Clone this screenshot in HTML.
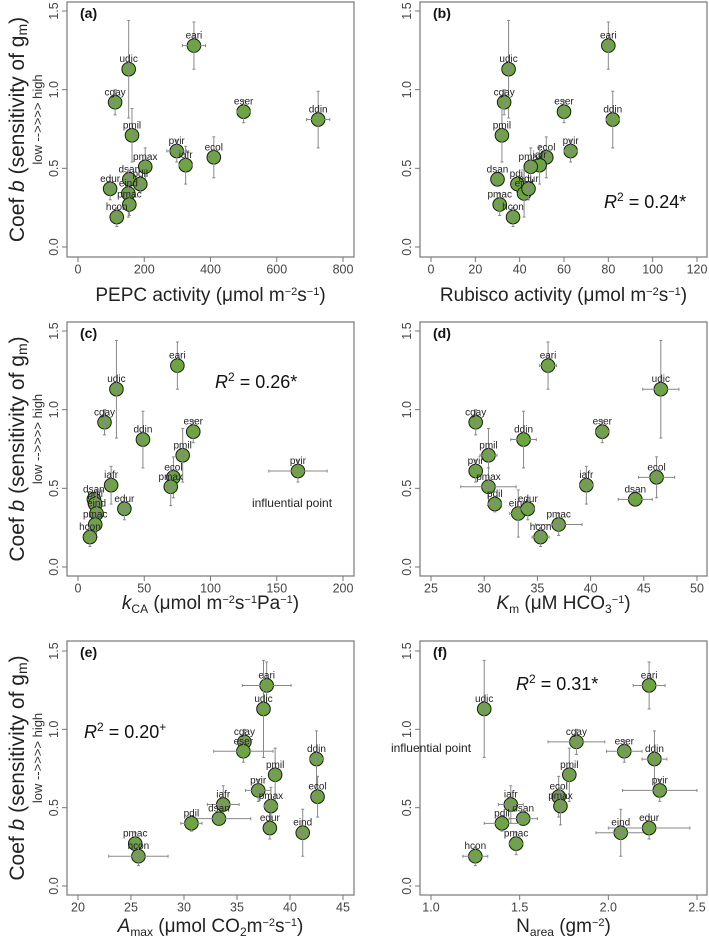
<!DOCTYPE html>
<html><head><meta charset="utf-8"><style>
html,body{margin:0;padding:0;background:#fff}
svg{display:block;font-family:"Liberation Sans",sans-serif}
</style></head><body>
<svg id="fig" width="709" height="948" viewBox="0 0 709 948" xmlns="http://www.w3.org/2000/svg"></svg>
<script>
const species = ["eari","udic","cgay","eser","ddin","pmil","pvir","ecol","iafr","pmax","dsan","pdil","eind","edur","pmac","hcon"];
const coefB = [1.28,1.13,0.92,0.86,0.81,0.71,0.61,0.57,0.52,0.51,0.43,0.40,0.34,0.37,0.27,0.19];
const coefErr = [0.15,0.31,0.08,0.07,0.18,0.17,0.07,0.13,0.12,0.12,0.03,0.05,0.15,0.07,0.07,0.06];
const xPEPC = [350,153,112,500,725,163,298,410,325,203,155,188,152,97,155,117];
const xPEPCerr = [35,8,15,20,35,8,30,15,20,10,8,15,10,15,10,10];
const xRub = [80,35,33,60,82,32,63,52,49,45,30,39,42,44,31,37];
const xRubErr = [1.5,1,1.5,1.5,3,1.5,3,2,2,2,1.5,2,2,2,1.5,2];
const xKca = [75,29,20,87,49,79,166,72,25,70,12,13,14,35,13,9];
const xKcaErr = [3,2,2,3,2,3,22,3,2,3,2,2,2,3,2,2];
const xKm = [36,46.6,29.2,41.1,33.7,30.4,29.2,46.2,39.6,30.4,44.2,31,33.2,34.1,37,35.3];
const xKmErr = [0.8,1.7,0.4,0.6,1.2,0.8,0.4,1.7,0.6,2.6,1.6,0.6,0.8,0.6,2.2,0.8];
const xAmax = [37.8,37.5,35.7,35.6,42.5,38.6,37,42.6,33.7,38.2,33.3,30.7,41.2,38.1,25.4,25.7];
const xAmaxErr = [2.3,0.5,0.5,2.8,0.6,0.5,1.2,0.5,1.5,0.6,3,1,0.5,0.5,0.5,2.8];
const xNarea = [2.23,1.30,1.82,2.09,2.26,1.78,2.29,1.72,1.45,1.73,1.52,1.40,2.07,2.23,1.48,1.25];
const xNareaErr = [0.09,0.01,0.16,0.1,0.07,0.03,0.21,0.03,0.07,0.03,0.08,0.1,0.14,0.23,0.04,0.07];
const yTicks = [0,0.5,1.0,1.5];
const yTickLabels = ["0.0","0.5","1.0","1.5"];

const NS="http://www.w3.org/2000/svg";
const svg=document.getElementById('fig');
function mk(tag,attrs,parent){const e=document.createElementNS(NS,tag);for(const k in attrs)e.setAttribute(k,attrs[k]);(parent||svg).appendChild(e);return e;}

const panels=[
 {id:"a",xs:xPEPC,xe:xPEPCerr,xmin:0,xmax:800,ticks:[0,200,400,600,800],col:0,row:0,title:'PEPC activity (<tspan>μmol m</tspan><tspan dy="-6" font-size="11">−2</tspan><tspan dy="6">s</tspan><tspan dy="-6" font-size="11">−1</tspan><tspan dy="6">)</tspan>'},
 {id:"b",xs:xRub,xe:xRubErr,xmin:0,xmax:120,ticks:[0,20,40,60,80,100,120],col:1,row:0,r2:["R","2"," = 0.24*",604,208],title:'Rubisco activity (μmol m<tspan dy="-6" font-size="11">−2</tspan><tspan dy="6">s</tspan><tspan dy="-6" font-size="11">−1</tspan><tspan dy="6">)</tspan>'},
 {id:"c",xs:xKca,xe:xKcaErr,xmin:0,xmax:200,ticks:[0,50,100,150,200],col:0,row:1,r2:["R","2"," = 0.26*",215,388],infl:[292,507],title:'<tspan font-style="italic">k</tspan><tspan dy="4" font-size="12">CA</tspan><tspan dy="-4"> (μmol m</tspan><tspan dy="-6" font-size="11">−2</tspan><tspan dy="6">s</tspan><tspan dy="-6" font-size="11">−1</tspan><tspan dy="6">Pa</tspan><tspan dy="-6" font-size="11">−1</tspan><tspan dy="6">)</tspan>'},
 {id:"d",xs:xKm,xe:xKmErr,xmin:25,xmax:50,ticks:[25,30,35,40,45,50],col:1,row:1,title:'<tspan font-style="italic">K</tspan><tspan dy="4" font-size="12">m</tspan><tspan dy="-4"> (μM HCO</tspan><tspan dy="4" font-size="12">3</tspan><tspan dy="-10" font-size="11">−1</tspan><tspan dy="6">)</tspan>'},
 {id:"e",xs:xAmax,xe:xAmaxErr,xmin:20,xmax:45,ticks:[20,25,30,35,40,45],col:0,row:2,r2:["R","2"," = 0.20",84,738,"+"],title:'<tspan font-style="italic">A</tspan><tspan dy="4" font-size="12">max</tspan><tspan dy="-4"> (μmol CO</tspan><tspan dy="4" font-size="12">2</tspan><tspan dy="-4">m</tspan><tspan dy="-6" font-size="11">−2</tspan><tspan dy="6">s</tspan><tspan dy="-6" font-size="11">−1</tspan><tspan dy="6">)</tspan>'},
 {id:"f",xs:xNarea,xe:xNareaErr,xmin:1.0,xmax:2.5,ticks:[1.0,1.5,2.0,2.5],tickFmt:1,col:1,row:2,r2:["R","2"," = 0.31*",516,690],infl:[431,752],title:'N<tspan dy="4" font-size="12">area</tspan><tspan dy="-4"> (gm</tspan><tspan dy="-6" font-size="11">−2</tspan><tspan dy="6">)</tspan>'}
];
const rows=[{y0:247,y15:11,top:2,bot:257,tl:301},{y0:567,y15:331,top:322,bot:576,tl:609},{y0:886,y15:651,top:641,bot:895,tl:932}];
const cols=[{x0:78,x1:343,left:67,right:354},{x0:431,x1:697,left:420,right:707}];

panels.forEach(p=>{
 const R=rows[p.row],C=cols[p.col];
 const sx=v=>C.x0+(v-p.xmin)/(p.xmax-p.xmin)*(C.x1-C.x0);
 const sy=v=>R.y0+(v-0)/1.5*(R.y15-R.y0);
 const g=mk('g',{});
 
 
 const box=mk('rect',{x:C.left,y:R.top,width:C.right-C.left,height:R.bot-R.top,fill:'none',stroke:'#777','stroke-width':1.2},g);
 
 
 p.ticks.forEach(t=>{
  const x=sx(t);
  mk('line',{x1:x,x2:x,y1:R.bot,y2:R.bot+5,stroke:'#777'},g);
  const tl=mk('text',{x:x,y:R.bot+13,'font-size':12.5,fill:'#444','text-anchor':'middle','dominant-baseline':'middle'},g);
  tl.textContent=p.tickFmt?t.toFixed(1):String(t);
  
  
 });
 yTicks.forEach((t,i)=>{
  const y=sy(t);
  mk('line',{x1:C.left-5,x2:C.left,y1:y,y2:y,stroke:'#777'},g);
  const tl=mk('text',{x:C.left-9,y:y,'font-size':12.5,fill:'#444','text-anchor':'middle',transform:`rotate(-90 ${C.left-9} ${y})`},g);
  tl.textContent=yTickLabels[i];
  
  
 });
 const xt=mk('text',{x:(C.left+C.right)/2,y:R.tl,'font-size':19,fill:'#222','text-anchor':'middle'},g);
 xt.innerHTML=p.title;
 
 
 const pl=mk('text',{x:C.left+13,y:R.top+16,'font-size':14,'font-weight':'bold',fill:'#111'},g);
 pl.textContent='('+p.id+')';
 
 
 if(p.r2){
  const r=mk('text',{x:p.r2[3],y:p.r2[4],'font-size':18,fill:'#111'},g);
  r.innerHTML='<tspan font-style="italic">R</tspan><tspan dy="-7" font-size="12">2</tspan><tspan dy="7">'+p.r2[2]+'</tspan>'+(p.r2[5]?'<tspan dy="-7" font-size="12">+</tspan>':'');
  
  
 }
 if(p.infl){
  const t=mk('text',{x:p.infl[0],y:p.infl[1],'font-size':12,fill:'#222','text-anchor':'middle'},g);
  t.textContent='influential point';
  
  
 }
 species.forEach((s,i)=>{
  const cx=sx(p.xs[i]),cy=sy(coefB[i]);
  const pg=mk('g',{},g);
  
  
  const x1=sx(p.xs[i]-p.xe[i]),x2=sx(p.xs[i]+p.xe[i]);
  const y1=sy(coefB[i]-coefErr[i]),y2=sy(coefB[i]+coefErr[i]);
  mk('circle',{cx:cx,cy:cy,r:6.8,fill:'#6aa83b',stroke:'#1a1a1a','stroke-width':1},pg);
  mk('line',{x1:x1,x2:x2,y1:cy,y2:cy,stroke:'#888','stroke-width':1},pg);
  mk('line',{x1:cx,x2:cx,y1:y1,y2:y2,stroke:'#888','stroke-width':1},pg);
  [x1,x2].forEach(x=>mk('line',{x1:x,x2:x,y1:cy-1.5,y2:cy+1.5,stroke:'#888'},pg));
  [y1,y2].forEach(y=>mk('line',{x1:cx-1.5,x2:cx+1.5,y1:y,y2:y,stroke:'#888'},pg));
  const lb=mk('text',{x:cx,y:cy-7,'font-size':10,fill:'#222','text-anchor':'middle'},pg);
  lb.textContent=s;
  
  
 });
});
rows.forEach((R,k)=>{
 const cy=(R.top+R.bot)/2;
 const t=mk('text',{x:24,y:cy,'font-size':21,fill:'#222','text-anchor':'middle',transform:`rotate(-90 24 ${cy})`});
 t.innerHTML='Coef <tspan font-style="italic">b</tspan> (sensitivity of g<tspan dy="3" font-size="14">m</tspan><tspan dy="-3">)</tspan>';
 
 
 const t2=mk('text',{x:42,y:cy-10,'font-size':13,fill:'#333','text-anchor':'middle',transform:`rotate(-90 42 ${cy-10})`});
 t2.textContent='low  -->>>>  high';
 
 
});
</script>
</body></html>
